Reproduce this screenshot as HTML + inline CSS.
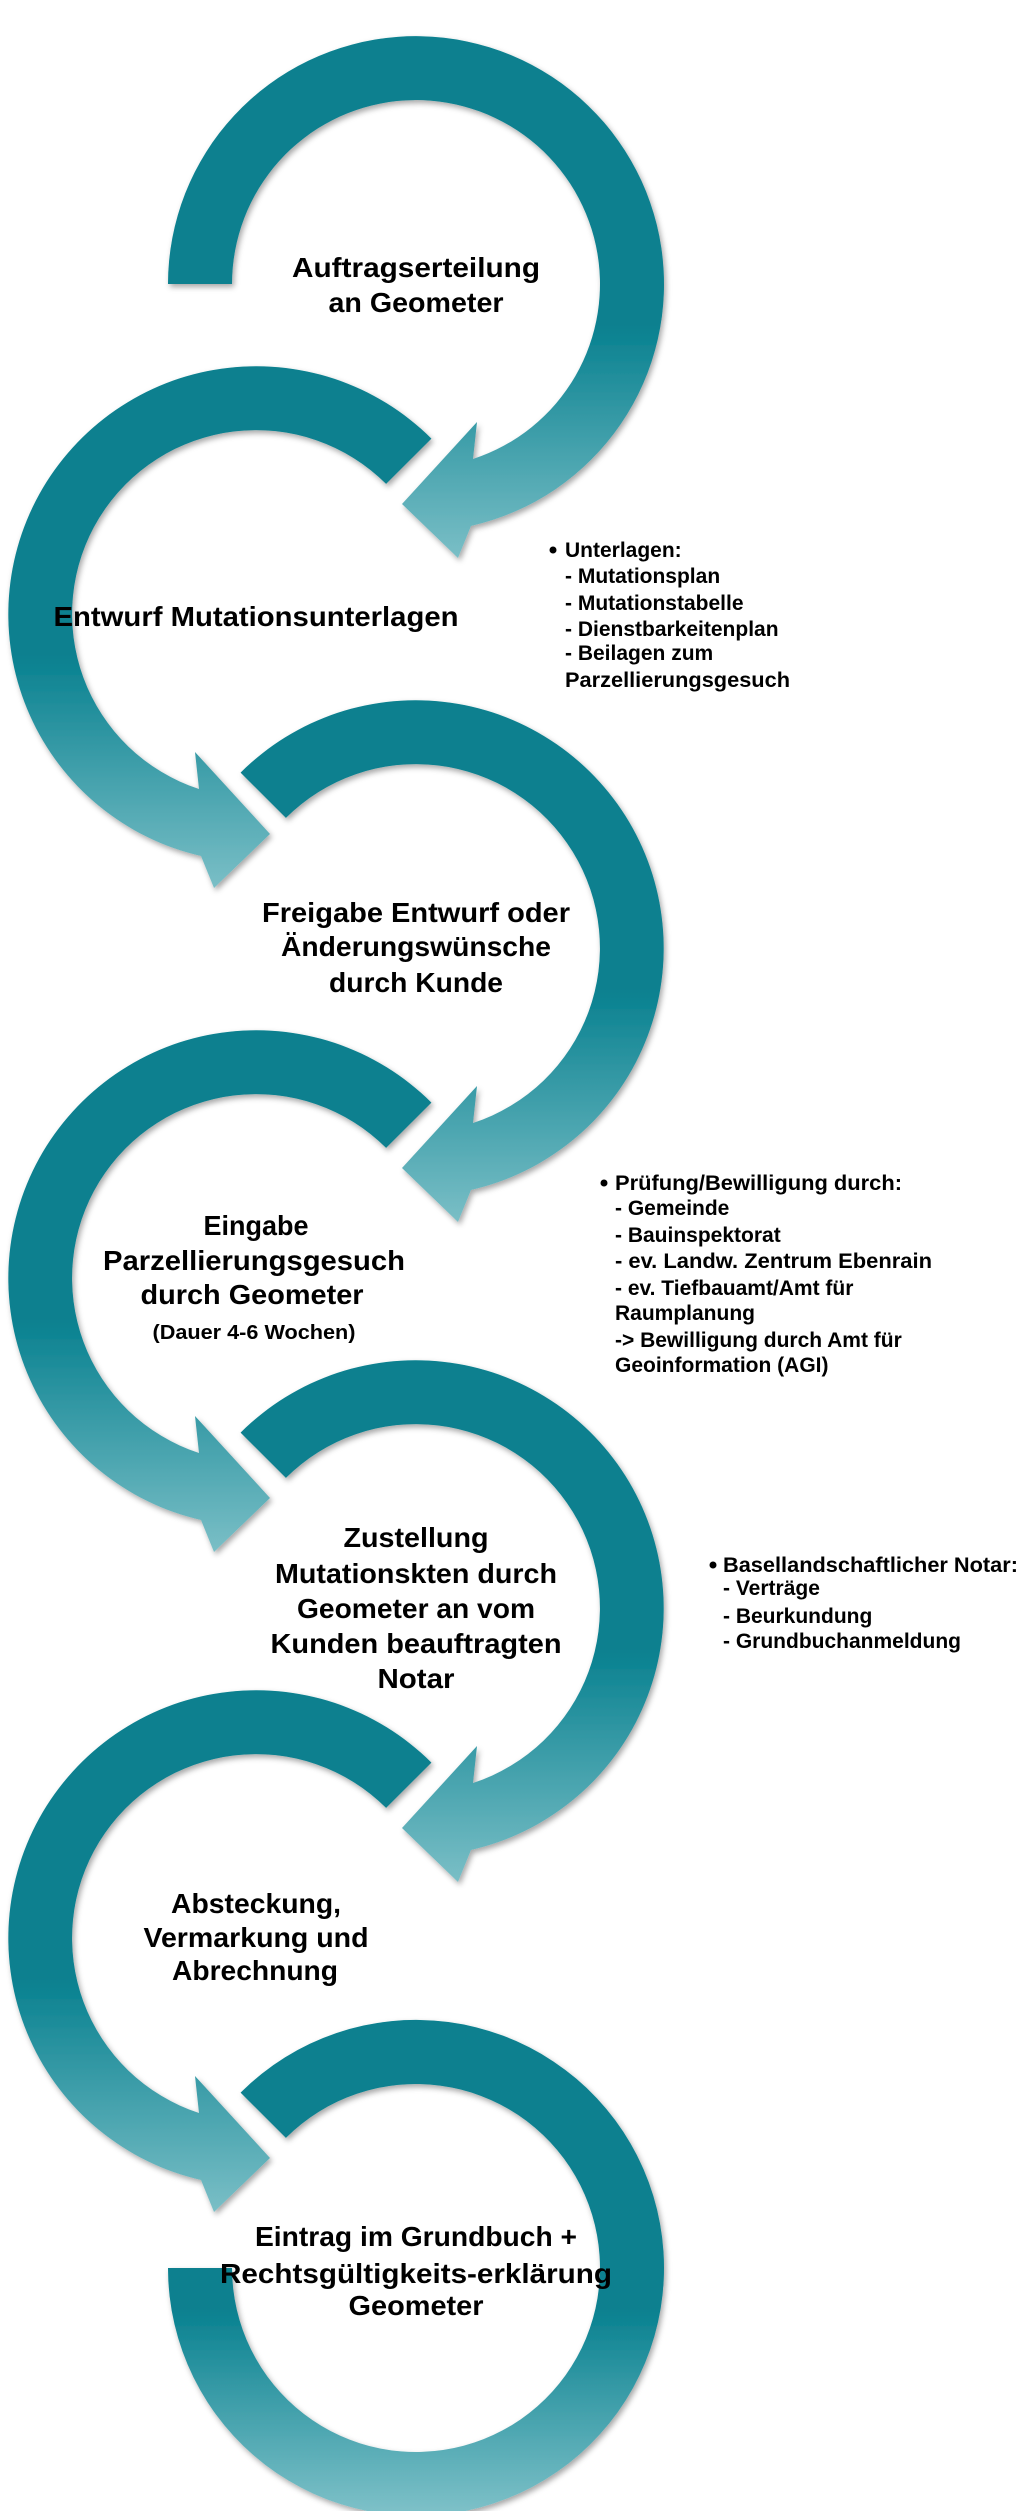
<!DOCTYPE html>
<html><head><meta charset="utf-8"><style>
html,body{margin:0;padding:0;background:#fff}
svg{display:block}
text{font-family:"Liberation Sans",sans-serif;font-weight:bold;fill:#000}
.h{font-size:28px}
.s{font-size:21px}
</style></head><body>
<svg width="1024" height="2511" viewBox="0 0 1024 2511" xmlns="http://www.w3.org/2000/svg">
<defs>
<filter id="sh" x="-10%" y="-10%" width="120%" height="120%">
<feDropShadow dx="2" dy="3" stdDeviation="3" flood-color="#000" flood-opacity="0.35"/>
</filter>
<linearGradient id="g1" gradientUnits="userSpaceOnUse" x1="0" y1="324" x2="0" y2="574"><stop offset="0" stop-color="#07808f"/><stop offset="1" stop-color="#82c3ca"/></linearGradient>
<linearGradient id="g2" gradientUnits="userSpaceOnUse" x1="0" y1="654" x2="0" y2="904"><stop offset="0" stop-color="#07808f"/><stop offset="1" stop-color="#82c3ca"/></linearGradient>
<linearGradient id="g3" gradientUnits="userSpaceOnUse" x1="0" y1="988" x2="0" y2="1238"><stop offset="0" stop-color="#07808f"/><stop offset="1" stop-color="#82c3ca"/></linearGradient>
<linearGradient id="g4" gradientUnits="userSpaceOnUse" x1="0" y1="1318" x2="0" y2="1568"><stop offset="0" stop-color="#07808f"/><stop offset="1" stop-color="#82c3ca"/></linearGradient>
<linearGradient id="g5" gradientUnits="userSpaceOnUse" x1="0" y1="1648" x2="0" y2="1898"><stop offset="0" stop-color="#07808f"/><stop offset="1" stop-color="#82c3ca"/></linearGradient>
<linearGradient id="g6" gradientUnits="userSpaceOnUse" x1="0" y1="1978" x2="0" y2="2228"><stop offset="0" stop-color="#07808f"/><stop offset="1" stop-color="#82c3ca"/></linearGradient>
<linearGradient id="g7" gradientUnits="userSpaceOnUse" x1="0" y1="2308" x2="0" y2="2520"><stop offset="0" stop-color="#07808f"/><stop offset="1" stop-color="#82c3ca"/></linearGradient>
</defs>
<g filter="url(#sh)">
<path fill="url(#g1)" d="M168,284 A248,248 0 1 1 471,526 L458,558 L402,504 L477,422 L473,459 A184,184 0 1 0 232,284 Z"/>
<path fill="url(#g2)" d="M431.4,438.6 A248,248 0 1 0 201,856 L214,888 L270,834 L195,752 L199,789 A184,184 0 1 1 386.1,483.9 Z"/>
<path fill="url(#g3)" d="M240.6,772.6 A248,248 0 1 1 471,1190 L458,1222 L402,1168 L477,1086 L473,1123 A184,184 0 1 0 285.9,817.9 Z"/>
<path fill="url(#g4)" d="M431.4,1102.6 A248,248 0 1 0 201,1520 L214,1552 L270,1498 L195,1416 L199,1453 A184,184 0 1 1 386.1,1147.9 Z"/>
<path fill="url(#g5)" d="M240.6,1432.6 A248,248 0 1 1 471,1850 L458,1882 L402,1828 L477,1746 L473,1783 A184,184 0 1 0 285.9,1477.9 Z"/>
<path fill="url(#g6)" d="M431.4,1762.6 A248,248 0 1 0 201,2180 L214,2212 L270,2158 L195,2076 L199,2113 A184,184 0 1 1 386.1,1807.9 Z"/>
<path fill="url(#g7)" d="M240.6,2092.6 A248,248 0 1 1 168,2268 L232,2268 A184,184 0 1 0 285.9,2137.9 Z"/>
</g>

<g class="h" text-anchor="middle">
<text x="416" y="277" textLength="248" lengthAdjust="spacingAndGlyphs">Auftragserteilung</text>
<text x="416" y="312" textLength="175" lengthAdjust="spacingAndGlyphs">an Geometer</text>

<text x="256" y="626" textLength="405" lengthAdjust="spacingAndGlyphs">Entwurf Mutationsunterlagen</text>

<text x="416" y="922" textLength="308" lengthAdjust="spacingAndGlyphs">Freigabe Entwurf oder</text>
<text x="416" y="956" textLength="270" lengthAdjust="spacingAndGlyphs">Änderungswünsche</text>
<text x="416" y="992" textLength="174" lengthAdjust="spacingAndGlyphs">durch Kunde</text>

<text x="256" y="1235" textLength="105" lengthAdjust="spacingAndGlyphs">Eingabe</text>
<text x="254" y="1270" textLength="302" lengthAdjust="spacingAndGlyphs">Parzellierungsgesuch</text>
<text x="252" y="1304" textLength="223" lengthAdjust="spacingAndGlyphs">durch Geometer</text>
<text x="254" y="1339" textLength="203" lengthAdjust="spacingAndGlyphs" style="font-size:20px">(Dauer 4-6 Wochen)</text>

<text x="416" y="1547" textLength="145" lengthAdjust="spacingAndGlyphs">Zustellung</text>
<text x="416" y="1583" textLength="282" lengthAdjust="spacingAndGlyphs">Mutationskten durch</text>
<text x="416" y="1618" textLength="238" lengthAdjust="spacingAndGlyphs">Geometer an vom</text>
<text x="416" y="1653" textLength="291" lengthAdjust="spacingAndGlyphs">Kunden beauftragten</text>
<text x="416" y="1688" textLength="77" lengthAdjust="spacingAndGlyphs">Notar</text>

<text x="256" y="1913" textLength="170" lengthAdjust="spacingAndGlyphs">Absteckung,</text>
<text x="256" y="1947" textLength="225" lengthAdjust="spacingAndGlyphs">Vermarkung und</text>
<text x="255" y="1980" textLength="166" lengthAdjust="spacingAndGlyphs">Abrechnung</text>

<text x="416" y="2246" textLength="322" lengthAdjust="spacingAndGlyphs">Eintrag im Grundbuch +</text>
<text x="416" y="2283" textLength="392" lengthAdjust="spacingAndGlyphs">Rechtsgültigkeits-erklärung</text>
<text x="416" y="2315" textLength="135" lengthAdjust="spacingAndGlyphs">Geometer</text>
</g>

<g class="s">
<circle cx="553" cy="550" r="3.5" fill="#000"/>
<text x="565" y="557">Unterlagen:</text>
<text x="565" y="583">- Mutationsplan</text>
<text x="565" y="610">- Mutationstabelle</text>
<text x="565" y="636">- Dienstbarkeitenplan</text>
<text x="565" y="660">- Beilagen zum</text>
<text x="565" y="687" textLength="225" lengthAdjust="spacingAndGlyphs">Parzellierungsgesuch</text>

<circle cx="604" cy="1183" r="3.5" fill="#000"/>
<text x="615" y="1190" textLength="287" lengthAdjust="spacingAndGlyphs">Prüfung/Bewilligung durch:</text>
<text x="615" y="1215">- Gemeinde</text>
<text x="615" y="1242">- Bauinspektorat</text>
<text x="615" y="1268" textLength="317" lengthAdjust="spacingAndGlyphs">- ev. Landw. Zentrum Ebenrain</text>
<text x="615" y="1295">- ev. Tiefbauamt/Amt für</text>
<text x="615" y="1320">Raumplanung</text>
<text x="615" y="1347">-&gt;  Bewilligung durch Amt für</text>
<text x="615" y="1372">Geoinformation (AGI)</text>

<circle cx="713" cy="1565" r="3.5" fill="#000"/>
<text x="723" y="1572" textLength="295" lengthAdjust="spacingAndGlyphs">Basellandschaftlicher Notar:</text>
<text x="723" y="1595">- Verträge</text>
<text x="723" y="1623">- Beurkundung</text>
<text x="723" y="1648">- Grundbuchanmeldung</text>
</g>
</svg>
</body></html>
